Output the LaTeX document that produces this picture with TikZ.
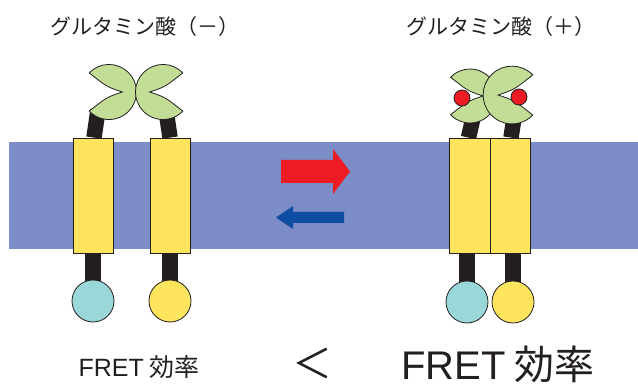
\documentclass[tikz,border=0pt]{standalone}
\usepackage{fontspec}
\setmainfont{Noto Sans CJK JP}
\newfontfamily\latinfont{Liberation Sans}
\usetikzlibrary{backgrounds}
\definecolor{membblue}{HTML}{7B8CC6}
\definecolor{tmyellow}{HTML}{FFE45E}
\definecolor{cfpcyan}{HTML}{9AD7D9}
\definecolor{lobegreen}{HTML}{C2DD96}
\definecolor{glured}{HTML}{ED1C24}
\definecolor{backblue}{HTML}{0E4DA2}
\definecolor{outline}{HTML}{231F20}
\tikzset{
  tmbox/.style = {draw=outline, line width=0.8pt, fill=tmyellow,
    minimum width=40pt, minimum height=115pt, inner sep=0pt},
  fp/.style = {circle, draw=outline, line width=0.8pt,
    minimum size=42pt, inner sep=0pt},
  cfp/.style = {fp, fill=cfpcyan},
  yfp/.style = {fp, fill=tmyellow},
  stalk/.style = {draw=outline, line width=15.5pt},
  lobe/.style = {draw=outline, line width=0.8pt, fill=lobegreen},
  glu/.style = {circle, draw=outline, line width=0.8pt, fill=glured,
    minimum size=16pt, inner sep=0pt},
  toptext/.style = {font=\fontsize{21}{24}\selectfont, text=outline},
  fretsmall/.style = {font=\fontsize{25}{28}\selectfont, text=outline,
    anchor=base, inner sep=0pt},
  fretbig/.style = {font=\fontsize{40}{43}\selectfont, text=outline,
    anchor=base, inner sep=0pt, text depth=0pt}}

% one half of the binding domain, mouth opening to the left (#3=-1 flips it)
\newcommand{\drawlobe}[4]{%
  \begin{scope}[shift={(#1,#2)}, xscale=#3*#4, yscale=#4]
    \draw[lobe] (224:27) arc[start angle=224, end angle=496, radius=27]
      .. controls (-2,5) .. (13,0) .. controls (-2,-5) .. cycle;
  \end{scope}}

\begin{document}
\begin{tikzpicture}[x=1pt, y=-1pt]
\useasboundingbox (0,0) rectangle (638,385);

\fill[membblue] (9,142) rectangle (638,249);

% open receptor
\node[tmbox] (tmA) at (93,195.5) {};
\node[tmbox] (tmB) at (170,195.5) {};
\node[cfp] (cfpA) at (93,301) {};
\node[yfp] (yfpB) at (170,301) {};
\coordinate (hingeA) at (98,110);
\coordinate (hingeB) at (166,110);
\drawlobe{109}{92}{1}{1.02}
\drawlobe{163}{92}{-1}{1.02}

% closed receptor with glutamate
\node[tmbox, minimum width=41pt] (tmC) at (469.5,195.5) {};
\node[tmbox] (tmD) at (510,195.5) {};
\node[cfp] (cfpC) at (467,302) {};
\node[yfp] (yfpD) at (513,302) {};
\coordinate (hingeC) at (473,118);
\coordinate (hingeD) at (514,118);
\drawlobe{470}{96}{1}{1}
\drawlobe{512}{95}{-1}{1.07}
\node[glu] (gluC) at (462,98) {};
\node[glu] (gluD) at (519,97) {};

\begin{scope}[on background layer]
  \draw[stalk] ([xshift=1pt]tmA.north) -- (hingeA);
  \draw[stalk] (tmB.north) -- (hingeB);
  \draw[stalk] ([xshift=-1pt]tmC.north) -- (hingeC);
  \draw[stalk] ([xshift=1pt]tmD.north) -- (hingeD);
  \draw[stalk] (tmA.south) -- (cfpA.center);
  \draw[stalk] (tmB.south) -- (yfpB.center);
  \draw[stalk] (cfpC.center |- tmC.south) -- (cfpC.center);
  \draw[stalk] (yfpD.center |- tmD.south) -- (yfpD.center);
\end{scope}

% forward / backward
\fill[glured] (281,160) -- (333,160) -- (333,149) -- (350,171.5)
  -- (333,194) -- (333,183) -- (281,183) -- cycle;
\fill[backblue] (344,212) -- (293,212) -- (293,206) -- (276,217.5)
  -- (293,229) -- (293,223) -- (344,223) -- cycle;

\node[toptext] (labMinus) at (145,27) {グルタミン酸（－）};
\node[toptext] (labPlus) at (501,27) {グルタミン酸（＋）};
\node[fretsmall] (fretOff) at (139,376) {{\latinfont FRET} 効率};
\node[fretbig] (cmpSign) at (312,378) {＜};
\node[fretbig] (fretOn) at (498,379) {{\latinfont FRET} 効率};
\end{tikzpicture}
\end{document}
